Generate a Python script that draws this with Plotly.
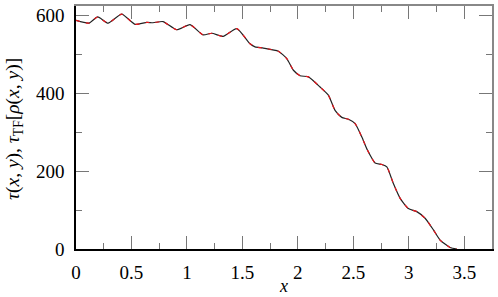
import plotly.graph_objects as go

x_vals = [0.0, 0.117, 0.196, 0.289, 0.412, 0.532, 0.638, 0.694, 0.784, 0.908,
          1.028, 1.145, 1.224, 1.326, 1.449, 1.569, 1.614, 1.689, 1.824, 1.900,
          1.960, 2.020, 2.095, 2.200, 2.275, 2.335, 2.396, 2.456, 2.516, 2.576,
          2.627, 2.696, 2.757, 2.802, 2.861, 2.922, 2.996, 3.072, 3.147, 3.222,
          3.282, 3.372, 3.433]
tau_vals = [587, 580, 596, 580, 603, 577, 582, 581, 584, 563,
            576, 550, 554, 546, 566, 527, 519, 516, 508, 489,
            459, 445, 442, 416, 395, 356, 338, 333, 322, 288,
            254, 221, 217, 211, 168, 130, 104, 96, 79, 49,
            23, 4, 0]
tau_tf_vals = list(tau_vals)

x_ticks = [0, 0.5, 1, 1.5, 2, 2.5, 3, 3.5]
x_tick_text = ["0", "0.5", "1", "1.5", "2", "2.5", "3", "3.5"]
y_ticks = [0, 200, 400, 600]
y_tick_text = ["0", "200", "400", "600"]

FONT = "Liberation Serif"
TICKC = "#777777"
TICKFONT = dict(family=FONT, size=19, color="black")

fig = go.Figure()
fig.add_trace(go.Scatter(x=x_vals, y=tau_vals, mode="lines",
                         line=dict(color="#222222", width=1.2, shape="spline", smoothing=0.55),
                         showlegend=False, hoverinfo="skip"))
fig.add_trace(go.Scatter(x=x_vals, y=tau_tf_vals, mode="lines",
                         line=dict(color="#e8141b", width=1.2, dash="4px,6px", shape="spline", smoothing=0.55),
                         showlegend=False, hoverinfo="skip"))

common_x = dict(range=[0, 3.75], ticks="inside", ticklen=13, tickwidth=1, tickcolor=TICKC,
                minor=dict(ticks="inside", ticklen=6, dtick=0.25, tick0=0, tickcolor=TICKC, tickwidth=1),
                showgrid=False, zeroline=False, automargin=False)
common_y = dict(range=[0, 624], ticks="inside", ticklen=13, tickwidth=1, tickcolor=TICKC,
                minor=dict(ticks="inside", ticklen=6, dtick=100, tick0=0, tickcolor=TICKC, tickwidth=1),
                showgrid=False, zeroline=False, automargin=False)

fig.update_layout(
    width=498, height=297,
    margin=dict(l=76, r=6, t=6, b=48),
    paper_bgcolor="white", plot_bgcolor="white",
    font=dict(family=FONT, size=18, color="black"),
    xaxis=dict(**common_x, tickvals=x_ticks, ticktext=x_tick_text, tickfont=TICKFONT,
               showline=True, linecolor="black", linewidth=1.5,
               ticklabelstandoff=5),
    yaxis=dict(**common_y, tickvals=y_ticks, ticktext=y_tick_text, tickfont=TICKFONT,
               showline=True, linecolor="black", linewidth=1.5,
               ticklabelstandoff=6),
    xaxis2=dict(**common_x, tickvals=x_ticks, overlaying="x", side="top", matches="x",
                showticklabels=False, showline=True, linecolor="#888888", linewidth=1.5),
    yaxis2=dict(**common_y, tickvals=y_ticks, overlaying="y", side="right", matches="y",
                showticklabels=False, showline=True, linecolor="#888888", linewidth=1.5),
    annotations=[
        dict(text="<i>x</i>", xref="paper", yref="paper", x=0.499, y=-0.152,
             xanchor="center", yanchor="middle", showarrow=False,
             font=dict(family=FONT, size=18)),
        dict(text="<i>τ</i>(<i>x</i>, <i>y</i>), <i>τ</i><sub>TF</sub>[<i>ρ</i>(<i>x</i>, <i>y</i>)]",
             xref="paper", yref="paper", x=-0.149, y=0.494, xanchor="center", yanchor="middle",
             textangle=-90, showarrow=False, font=dict(family=FONT, size=19.5)),
    ],
)
fig.add_trace(go.Scatter(x=[x_vals[0]], y=[tau_vals[0]], xaxis="x2", yaxis="y2",
                         mode="markers", marker=dict(opacity=0), showlegend=False, hoverinfo="skip"))

fig.write_html("out.html", config={"displayModeBar": False},
               post_script="document.body.style.margin='0';document.body.style.padding='0';")
